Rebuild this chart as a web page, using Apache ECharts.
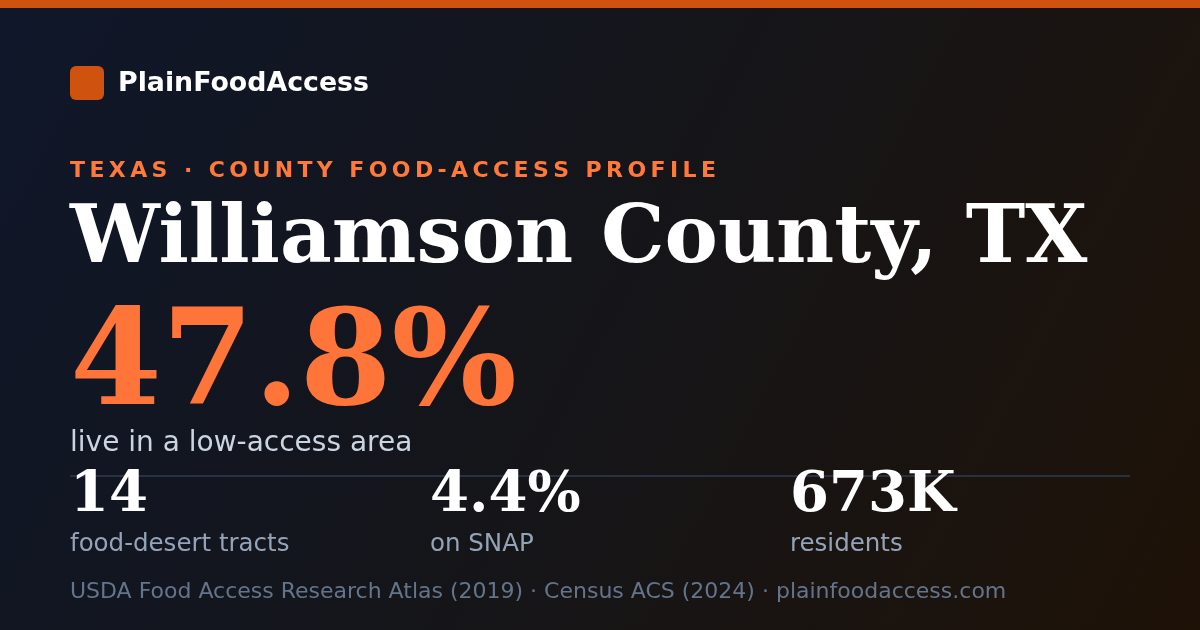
<!DOCTYPE html>
<html>
<head>
<meta charset="utf-8">
<script src="https://cdn.jsdelivr.net/npm/echarts@6/dist/echarts.min.js"></script>
<style>
html,body{margin:0;padding:0;background:#111827;}
#chart{width:1200px;height:630px;}
</style>
</head>
<body>
<div id="chart"></div>
<script>
// ---- content ----
const brandName = 'PlainFoodAccess';
const kicker = 'TEXAS · COUNTY FOOD-ACCESS PROFILE';
const countyName = 'Williamson County, TX';
const headlineValue = '47.8%';
const headlineLabel = 'live in a low-access area';
const statValues = ['14', '4.4%', '673K'];
const statLabels = ['food-desert tracts', 'on SNAP', 'residents'];
const sourceNote = 'USDA Food Access Research Atlas (2019) · Census ACS (2024) · plainfoodaccess.com';

const SANS = '"DejaVu Sans", sans-serif';
const SERIF = '"DejaVu Serif", serif';

const chart = echarts.init(document.getElementById('chart'), null, {renderer: 'canvas'});

// letter-spaced text helper (per-character placement)
const ctx = document.createElement('canvas').getContext('2d');
function spacedText(str, x, y, font, fill, spacing) {
  ctx.font = font;
  const els = [];
  let cx = x;
  for (const ch of str) {
    els.push({type: 'text', style: {text: ch, x: cx, y: y, font: font, fill: fill, textVerticalAlign: 'middle'}});
    cx += ctx.measureText(ch).width + spacing;
  }
  return els;
}

const graphics = [
  {type: 'rect', shape: {x: 0, y: 0, width: 1200, height: 630},
   style: {fill: new echarts.graphic.LinearGradient(0, 0, 1, 1, [
     {offset: 0, color: '#0f172a'},
     {offset: 0.5, color: '#151519'},
     {offset: 1, color: '#1e1207'}
   ])}},
  {type: 'rect', shape: {x: 0, y: 0, width: 1200, height: 8}, style: {fill: '#cf520e'}},
  {type: 'rect', shape: {x: 70, y: 66, width: 34, height: 34, r: 6}, style: {fill: '#cf520e'}},
  {type: 'text', style: {text: brandName, x: 118, y: 84, font: 'bold 26.8px ' + SANS, fill: '#ffffff', textVerticalAlign: 'middle'}},
  ...spacedText(kicker, 70, 171, 'bold 22px ' + SANS, '#ff7a3a', 4.4),
  {type: 'text', style: {text: countyName, x: 70, y: 241, font: 'bold 80px ' + SERIF, fill: '#ffffff', textVerticalAlign: 'middle'}},
  {type: 'text', style: {text: headlineValue, x: 70, y: 370, font: 'bold 132px ' + SERIF, fill: '#ff7438', textVerticalAlign: 'middle'}},
  {type: 'text', style: {text: headlineLabel, x: 70, y: 444, font: '28px ' + SANS, fill: '#cbd5e1', textVerticalAlign: 'middle'}},
  {type: 'line', shape: {x1: 70, y1: 476, x2: 1130, y2: 476}, style: {stroke: '#283142', lineWidth: 2}},
  {type: 'text', style: {text: sourceNote, x: 70, y: 592, font: '22px ' + SANS, fill: '#64748b', textVerticalAlign: 'middle'}}
];

const colX = [70, 430, 790];
statValues.forEach((v, i) => {
  graphics.push({type: 'text', style: {text: v, x: colX[i], y: 496, font: 'bold 56px ' + SERIF, fill: '#ffffff', textVerticalAlign: 'middle'}});
  graphics.push({type: 'text', style: {text: statLabels[i], x: colX[i], y: 545, font: '24.5px ' + SANS, fill: '#94a3b8', textVerticalAlign: 'middle'}});
});

chart.setOption({
  animation: false,
  graphic: {elements: graphics}
});
</script>
</body>
</html>
